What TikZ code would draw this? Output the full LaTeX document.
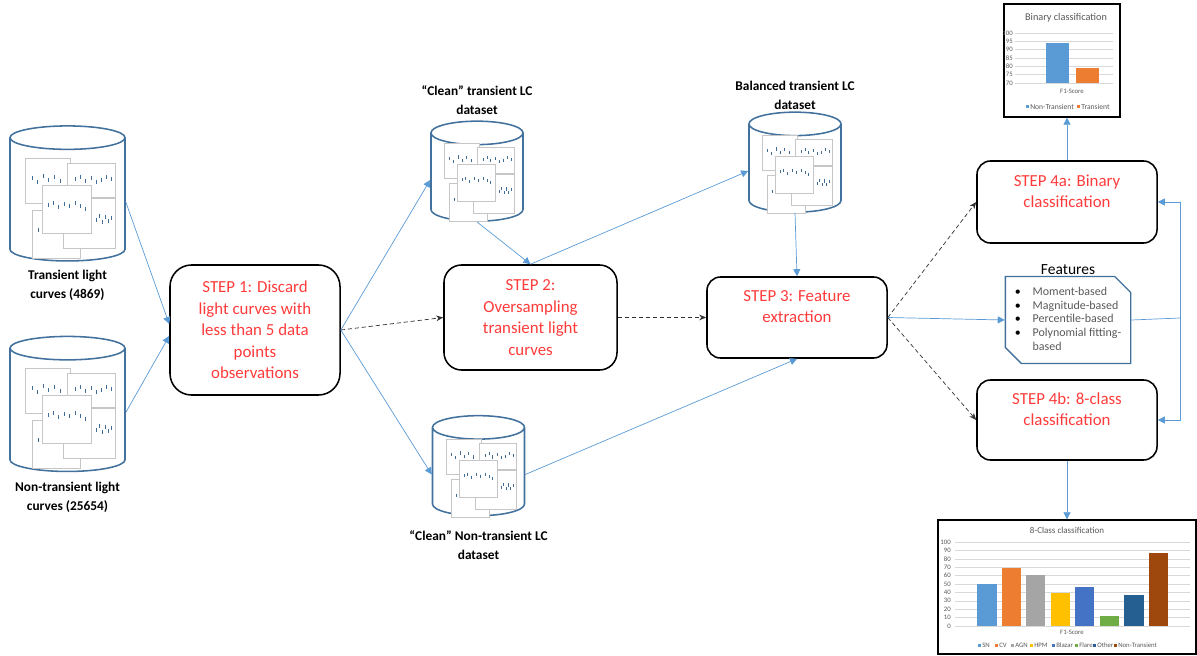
\documentclass[tikz,border=0pt]{standalone}
\usepackage{fontspec}
\setmainfont{Carlito}
\usepackage{tikz}
\usetikzlibrary{shapes.geometric, shapes.misc, arrows.meta, positioning}

\definecolor{lineblue}{HTML}{5B9BD5}
\definecolor{cylblue}{HTML}{41719C}
\definecolor{steptxt}{HTML}{FF3B3B}
\definecolor{textgray}{HTML}{595959}
\definecolor{gridgray}{HTML}{D9D9D9}
% bar colours
\definecolor{cSN}{HTML}{5B9BD5}
\definecolor{cCV}{HTML}{ED7D31}
\definecolor{cAGN}{HTML}{A5A5A5}
\definecolor{cHPM}{HTML}{FFC000}
\definecolor{cBlazar}{HTML}{4472C4}
\definecolor{cFlare}{HTML}{70AD47}
\definecolor{cOther}{HTML}{255E91}
\definecolor{cNonTr}{HTML}{9E480E}

% small stack of light curve plots shown inside each data store
\tikzset{
  lcplot/.style={draw=gray!45, line width=0.2pt, fill=white},
  lcdot/.style={draw=lineblue!70!black, line width=0.4pt},
  pics/lcstack/.style={code={
    \draw[lcplot] (-45,-50) rectangle (0,-5);
    \foreach \px/\py in {-38/-30,-33/-26,-27/-32,-22/-28,-16/-31,-10/-27}
      \draw[lcdot] (\px,\py-2) -- (\px,\py+2);
    \draw[lcplot] (-3,-45) rectangle (45,-11);
    \foreach \px/\py in {5/-29,10/-31,15/-27,21/-30,26/-26,31/-28,36/-31,41/-29}
      \draw[lcdot] (\px,\py-2) -- (\px,\py+2);
    \draw[lcplot] (-38,2) rectangle (10,50);
    \draw[lcdot] (-32,20) -- (-32,24);
    \draw[lcplot] (-7,-10) rectangle (45,40);
    \foreach \px/\py in {26/12,29/8,32/14,35/9,38/13,41/10}
      \draw[lcdot] (\px,\py-2) -- (\px,\py+2);
    \draw[lcplot] (-28,-23) rectangle (21,25);
    \foreach \px/\py in {-22/-3,-17/-5,-12/-1,-6/-4,-1/-2,5/-5,10/-2,15/1}
      \draw[lcdot] (\px,\py-2) -- (\px,\py+2);
  }}
}

\begin{document}
\begin{tikzpicture}[
  x=0.025cm, y=-0.025cm,
  stepbox/.style={rectangle, draw, line width=1.1pt, rounded corners=0.34cm, align=center, inner sep=2pt, text=steptxt, font=\fontsize{12}{15.3}\selectfont},
  db/.style={cylinder, shape border rotate=90, shape aspect=2.5, draw=cylblue, line width=1.1pt, fill=white, minimum width=2.875cm, minimum height=3.375cm},
  smalldb/.style={db, minimum width=2.3cm, minimum height=2.5cm},
  dblabel/.style={font=\fontsize{9.5}{13.5}\selectfont\bfseries, align=center, inner sep=0pt},
  featbox/.style={chamfered rectangle, chamfered rectangle corners={north east, south west}, chamfered rectangle xsep=0.2cm, chamfered rectangle ysep=0.2cm, draw=cylblue, line width=0.9pt, minimum width=2.9cm, minimum height=2.1cm, inner sep=1pt, font=\fontsize{8.5}{9.7}\selectfont},
  chartbox/.style={rectangle, draw, line width=0.9pt, fill=white},
  charttitle/.style={font=\fontsize{6.4}{7}\selectfont, text=textgray, inner sep=0pt},
  ticklbl/.style={font=\fontsize{4.8}{5.5}\selectfont, text=textgray, inner sep=0pt},
  flow/.style={-{Triangle[length=5pt,width=5pt]}, lineblue, line width=0.5pt},
  dasharrow/.style={-{Stealth[length=5pt,width=4pt]}, black!80, dash pattern=on 3pt off 2pt, line width=0.5pt}
]
\useasboundingbox (0,0) rectangle (1197,656);

% input data stores
\node[db] (lctrans) at (67.5,202) {};
\pic at (70,208) {lcstack};
\node[dblabel, below=0.2cm of lctrans] {Transient light\\curves (4869)};

\node[db] (lcnon) at (67.5,412.5) {};
\pic at (70,418) {lcstack};
\node[dblabel, below=0.25cm of lcnon] {Non-transient light\\curves (25654)};

% steps 1 to 3
\node[stepbox, rounded corners=0.54cm, minimum width=4.25cm, minimum height=3.25cm] (step1) at (255,330)
  {STEP 1: Discard\\light curves with\\less than 5 data\\points\\observations};
\node[stepbox, rounded corners=0.44cm, minimum width=4.325cm, minimum height=2.625cm] (step2) at (530.5,317.5)
  {STEP 2:\\Oversampling\\transient light\\curves};
\node[stepbox, minimum width=4.5cm, minimum height=2.025cm] (step3) at (797,317.5)
  {STEP 3: Feature\\extraction\\\mbox{}};

% intermediate data stores
\node[smalldb] (cleantrans) at (477,180) {};
\pic[scale=0.78] at (479,182) {lcstack};
\node[dblabel, above=0.14cm of cleantrans] {``Clean'' transient LC\\dataset};

\node[smalldb] (balanced) at (795,171) {};
\pic[scale=0.78] at (797,174) {lcstack};
\node[dblabel, above=0.03cm of balanced] {Balanced transient LC\\dataset};

\node[smalldb] (cleannon) at (478.5,474.5) {};
\pic[scale=0.78] at (481,478) {lcstack};
\node[dblabel, below=0.35cm of cleannon] {``Clean'' Non-transient LC\\dataset};

% step 4 and the feature list
\node[stepbox, minimum width=4.5cm, minimum height=2.05cm] (step4a) at (1067,202)
  {STEP 4a: Binary\\classification\\\mbox{}};
\node[stepbox, minimum width=4.5cm, minimum height=2cm] (step4b) at (1067,420)
  {STEP 4b: 8-class\\classification\\\mbox{}};

\node[featbox] (feat) at (1068,320) {%
  \begin{tabular}{@{}l@{\hspace{8.5pt}}l@{}}
  \textbullet & \textcolor{textgray}{Moment-based}\\
  \textbullet & \textcolor{textgray}{Magnitude-based}\\
  \textbullet & \textcolor{textgray}{Percentile-based}\\
  \textbullet & \textcolor{textgray}{Polynomial fitting-}\\
              & \textcolor{textgray}{based}
  \end{tabular}};
\node[above=0pt of feat, inner sep=1pt, font=\fontsize{11}{13}\selectfont] {Features};
\coordinate (bus) at (1180,318);

% binary classification chart
\node[chartbox, minimum width=2.9cm, minimum height=2.825cm] (binchart) at (1062,60.5) {};
\node[charttitle, font=\fontsize{7.3}{8}\selectfont] at (1066,18) {Binary classification};
\foreach \v in {70,75,...,100} {
  \draw[gridgray, line width=0.3pt] (1015,{83-(\v-70)*5/3}) -- (1113,{83-(\v-70)*5/3});
  \node[ticklbl, anchor=east] at (1013,{83-(\v-70)*5/3}) {\v};
}
\fill[cSN] (1046,83) rectangle (1069,43);
\fill[cCV] (1076,83) rectangle (1099,68);
\node[ticklbl] at (1072,91) {F1-Score};
\fill[cSN] (1026,105.5) rectangle (1029,108.5);
\node[ticklbl, font=\fontsize{5.4}{6}\selectfont, anchor=west] at (1030,107) {Non-Transient};
\fill[cCV] (1077,105.5) rectangle (1080,108.5);
\node[ticklbl, font=\fontsize{5.4}{6}\selectfont, anchor=west] at (1081,107) {Transient};

% 8-class chart
\node[chartbox, minimum width=6.45cm, minimum height=3.35cm] (multichart) at (1067,587) {};
\node[charttitle] at (1067,530) {8-Class classification};
\foreach \v in {0,10,...,100} {
  \draw[gridgray, line width=0.3pt] (955,{626-0.84*\v}) -- (1190,{626-0.84*\v});
  \node[ticklbl, anchor=east] at (951,{626-0.84*\v}) {\v};
}
\fill[cSN]     (977,626)  rectangle (997,{626-0.84*50});
\fill[cCV]     (1002,626) rectangle (1021,{626-0.84*69});
\fill[cAGN]    (1026,626) rectangle (1045,{626-0.84*61});
\fill[cHPM]    (1051,626) rectangle (1070,{626-0.84*39});
\fill[cBlazar] (1075,626) rectangle (1094,{626-0.84*47});
\fill[cFlare]  (1100,626) rectangle (1119,{626-0.84*12});
\fill[cOther]  (1124,626) rectangle (1144,{626-0.84*37});
\fill[cNonTr]  (1149,626) rectangle (1168,{626-0.84*87});
\node[ticklbl] at (1072,632) {F1-Score};
\foreach \c/\lx/\t in {cSN/978/SN, cCV/995/CV, cAGN/1011/AGN, cHPM/1030/HPM, cBlazar/1052/Blazar, cFlare/1075/Flare, cOther/1093/Other, cNonTr/1114/Non-Transient} {
  \fill[\c] (\lx,643.5) rectangle ++(3,3);
  \node[ticklbl, anchor=west] at (\lx+4,645) {\t};
}

% connectors
\draw[flow] (lctrans.east) -- (step1.176);
\draw[flow] (lcnon.east) -- (step1.184);
\draw[flow] (step1.east) -- (cleantrans.west);
\draw[flow] (step1.east) -- (cleannon.west);
\draw[dasharrow] (step1.east) -- (step2.west);
\draw[flow] (cleantrans.south) -- (step2.north);
\draw[flow] (step2.north) -- (balanced.west);
\draw[dasharrow] (step2.east) -- (step3.west);
\draw[flow] (balanced.south) -- (step3.north);
\draw[flow] (cleannon.east) -- (step3.south);
\draw[dasharrow] (step3.east) -- (step4a.west);
\draw[dasharrow] (step3.east) -- (step4b.west);
\draw[flow] (step3.east) -- (feat.west);
\draw[lineblue, line width=0.5pt] (feat.east) -- (bus);
\draw[flow] (bus) |- (step4a.east);
\draw[flow] (bus) |- (step4b.east);
\draw[flow] (step4a.north) -- (step4a.north |- binchart.south);
\draw[flow] (step4b.south) -- (step4b.south |- multichart.north);

\end{tikzpicture}
\end{document}
